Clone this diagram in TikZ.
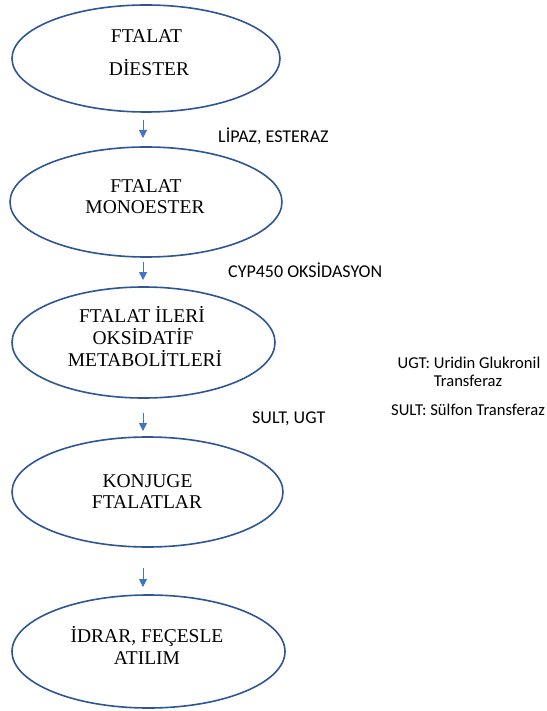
\documentclass[tikz,border=0pt]{standalone}
\usepackage{fontspec}
\setmainfont{Liberation Serif}
\newfontfamily\lblfont{Carlito}
\usetikzlibrary{shapes.geometric,arrows.meta}
\definecolor{elline}{HTML}{2F5597}
\definecolor{arr}{HTML}{4472C4}
\begin{document}
\begin{tikzpicture}[x=1pt,y=-1pt,
 oval/.style={ellipse, draw=elline, line width=1.6pt, inner sep=0pt},
 etext/.style={anchor=base, inner sep=0pt, font=\fontsize{19.5}{22}\selectfont},
 lbl/.style={anchor=base west, inner sep=0pt, font=\lblfont\fontsize{18}{21}\selectfont},
 leg/.style={anchor=base, inner sep=0pt, font=\lblfont\fontsize{16.6}{19}\selectfont},
 flow/.style={draw=arr, line width=1pt, -{Triangle[length=8pt,width=8pt]}}]
\useasboundingbox[fill=white] (0,0) rectangle (546,711);
% ellipses
\node[oval, minimum width=268pt, minimum height=107pt] (e1) at (146,58.5) {};
\node[oval, minimum width=272pt, minimum height=110pt] (e2) at (146,202) {};
\node[oval, minimum width=263pt, minimum height=111pt] (e3) at (143.5,342.5) {};
\node[oval, minimum width=271pt, minimum height=110pt] (e4) at (147.5,492) {};
\node[oval, minimum width=273pt, minimum height=113pt] (e5) at (148.5,651.5) {};
% ellipse texts
\node[etext] (t1a) at (146.5,43) {FTALAT};
\node[etext] (t1b) at (149,76) {DİESTER};
\node[etext] (t2a) at (146,193) {FTALAT};
\node[etext] (t2b) at (145,214) {MONOESTER};
\node[etext] (t3a) at (142,322) {FTALAT İLERİ};
\node[etext] (t3b) at (143,344) {OKSİDATİF};
\node[etext] (t3c) at (145,366) {METABOLİTLERİ};
\node[etext] (t4a) at (147.5,487) {KONJUGE};
\node[etext] (t4b) at (147,508) {FTALATLAR};
\node[etext] (t5a) at (147,642) {İDRAR, FEÇESLE};
\node[etext] (t5b) at (147,664) {ATILIM};
% arrows
\coordinate (a1s) at (143,120); \coordinate (a1e) at (143,138);
\coordinate (a2s) at (143,262); \coordinate (a2e) at (143,280);
\coordinate (a3s) at (143,413); \coordinate (a3e) at (143,431);
\coordinate (a4s) at (143,568); \coordinate (a4e) at (143,587);
\draw[flow] (a1s) -- (a1e);
\draw[flow] (a2s) -- (a2e);
\draw[flow] (a3s) -- (a3e);
\draw[flow] (a4s) -- (a4e);
% labels
\node[lbl] (l1) at (218,143) {LİPAZ, ESTERAZ};
\node[lbl] (l2) at (228,277) {CYP450 OKSİDASYON};
\node[lbl] (l3) at (252,423) {SULT, UGT};
% legend
\node[leg] (g1) at (469,368) {UGT: Uridin Glukronil};
\node[leg] (g2) at (468,386) {Transferaz};
\node[leg] (g3) at (468,415) {SULT: Sülfon Transferaz};
\end{tikzpicture}
\end{document}
